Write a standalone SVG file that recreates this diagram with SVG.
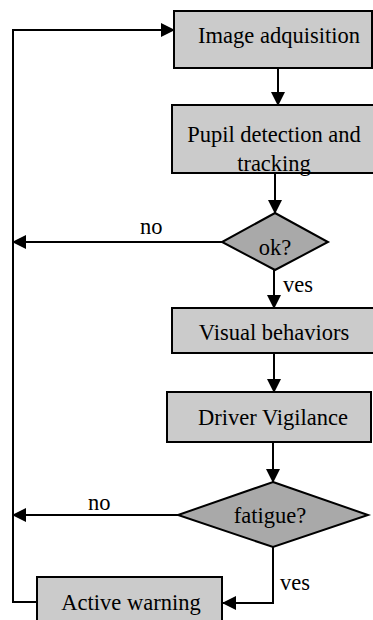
<svg xmlns="http://www.w3.org/2000/svg" width="373" height="620" viewBox="0 0 373 620">
<defs>
<marker id="ahs" viewBox="0 0 14 14" markerWidth="14" markerHeight="14" refX="13" refY="7" orient="auto" markerUnits="userSpaceOnUse">
<path d="M0,0 L14,7 L0,14 Z" fill="#000"/>
</marker>
</defs>
<style>
.box{fill:#cbcbcb;stroke:#000;stroke-width:2}
.dia{fill:#a9a9a9;stroke:#000;stroke-width:2}
.t{font-family:"Liberation Serif","Times New Roman",serif;font-size:22.5px;fill:#000;text-anchor:middle}
.lbl{font-family:"Liberation Serif","Times New Roman",serif;font-size:22.5px;fill:#000}
.c{fill:none;stroke:#000;stroke-width:2}
</style>
<g id="connectors">
<path class="c" d="M278,68 L278,105" marker-end="url(#ahs)"/>
<path class="c" d="M275,173 L275,213" marker-end="url(#ahs)"/>
<path class="c" d="M222,242 L13,242" marker-end="url(#ahs)"/>
<path class="c" d="M274,270 L274,308" marker-end="url(#ahs)"/>
<path class="c" d="M274,353 L274,392" marker-end="url(#ahs)"/>
<path class="c" d="M273,442 L273,482" marker-end="url(#ahs)"/>
<path class="c" d="M178,515 L13,515" marker-end="url(#ahs)"/>
<path class="c" d="M273,547 L273,603 L223,603" marker-end="url(#ahs)"/>
<path class="c" d="M37,602 L13,602 L13,30 L174,30" marker-end="url(#ahs)"/>
<text class="lbl" x="140" y="234">no</text>
<text class="lbl" x="283" y="292">ves</text>
<text class="lbl" x="88" y="510">no</text>
<text class="lbl" x="280" y="590">ves</text>
</g>
<g id="n1">
<rect class="box" x="174" y="11" width="198" height="57"/>
<text class="t" x="279" y="43">Image adquisition</text>
</g>
<g id="n2">
<rect class="box" x="172" y="105" width="203" height="68"/>
<text class="t" x="274" y="142">Pupil detection and</text>
<text class="t" x="274" y="171">tracking</text>
<rect x="172" y="105" width="203" height="68" fill="none" stroke="#000" stroke-width="2"/>
</g>
<g id="n3">
<polygon class="dia" points="275,213 328,242 275,270 222,242"/>
<text class="t" x="275" y="255">ok?</text>
</g>
<g id="n4">
<rect class="box" x="172" y="308" width="203" height="45"/>
<text class="t" x="274" y="340">Visual behaviors</text>
</g>
<g id="n5">
<rect class="box" x="167" y="392" width="204" height="50"/>
<text class="t" x="273" y="425">Driver Vigilance</text>
</g>
<g id="n6">
<polygon class="dia" points="273,482 368,515 273,547 178,515"/>
<text class="t" x="270" y="523">fatigue?</text>
</g>
<g id="n7">
<rect class="box" x="37" y="577" width="185" height="50"/>
<text class="t" x="131" y="610">Active warning</text>
</g>
</svg>
